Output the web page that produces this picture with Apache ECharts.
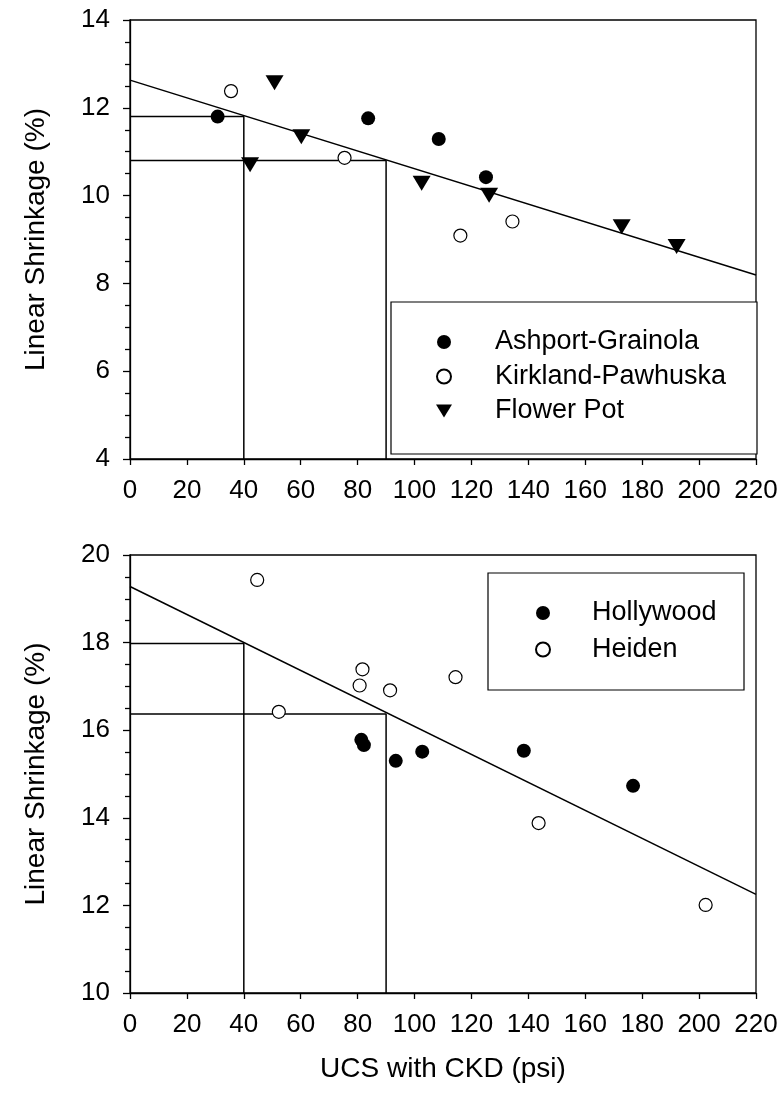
<!DOCTYPE html>
<html>
<head>
<meta charset="utf-8">
<script src="https://cdn.jsdelivr.net/npm/echarts@6/dist/echarts.min.js"></script>
<style>
  html, body { margin: 0; padding: 0; background: #fff; }
  #chart { width: 783px; height: 1117px; }
</style>
</head>
<body>
<div id="chart"></div>
<script>
// axis ranges [min, max, step]
const xRange = [0, 220, 20];
const topYRange = [4, 14, 2];
const bottomYRange = [10, 20, 2];

// top panel
const ashport = [[30.8, 11.80], [83.7, 11.76], [108.5, 11.29], [125.1, 10.42]];
const kirkland = [[35.5, 12.38], [75.4, 10.86], [116.1, 9.09], [134.4, 9.41]];
const flowerPot = [[50.8, 12.57], [60.2, 11.34], [42.2, 10.70], [102.5, 10.28], [126.2, 10.01], [172.8, 9.29], [192.1, 8.84]];
const topFit = [[0, 12.63], [220, 8.19]];
const topGuideA = [[0, 11.8], [40, 11.8], [40, 4]];
const topGuideB = [[0, 10.8], [90, 10.8], [90, 4]];

// bottom panel
const hollywood = [[81.3, 15.78], [82.2, 15.66], [93.4, 15.30], [102.7, 15.51], [138.4, 15.53], [176.8, 14.73]];
const heiden = [[44.7, 19.43], [52.3, 16.42], [80.7, 17.02], [81.7, 17.39], [91.4, 16.91], [114.4, 17.21], [143.6, 13.88], [202.3, 12.01]];
const bottomFit = [[0, 19.28], [220, 12.25]];
const bottomGuideA = [[0, 17.98], [40, 17.98], [40, 10]];
const bottomGuideB = [[0, 16.37], [90, 16.37], [90, 10]];

const FONT = "'Liberation Sans', Arial, sans-serif";
const DOWN_TRIANGLE = 'path://M0,0 L2,0 L1,1.65 Z';
const chart = echarts.init(document.getElementById('chart'));

const xAxisOf = (gridIndex, withName) => ({
  type: 'value', gridIndex,
  min: xRange[0], max: xRange[1], interval: xRange[2],
  axisLine: { show: true, onZero: false, lineStyle: { color: '#000', width: 1.3 } },
  axisTick: { show: true, inside: false, length: 6, lineStyle: { color: '#000', width: 1.3 } },
  axisLabel: { color: '#000', fontSize: 26, fontFamily: FONT, margin: 19 },
  splitLine: { show: false },
  name: withName ? 'UCS with CKD (psi)' : '',
  nameLocation: 'middle', nameGap: 62,
  nameTextStyle: { color: '#000', fontSize: 28, fontFamily: FONT }
});

const yAxisOf = (gridIndex, range) => ({
  type: 'value', gridIndex,
  min: range[0], max: range[1], interval: range[2],
  axisLine: { show: true, onZero: false, lineStyle: { color: '#000', width: 1.3 } },
  axisTick: { show: true, inside: false, length: 7, lineStyle: { color: '#000', width: 1.3 } },
  minorTick: { show: true, splitNumber: 4, length: 5, lineStyle: { color: '#000', width: 1.3 } },
  axisLabel: { color: '#000', fontSize: 26, fontFamily: FONT, margin: 20 },
  splitLine: { show: false },
  name: 'Linear Shrinkage (%)',
  nameLocation: 'middle', nameGap: 80, nameRotate: 90,
  nameTextStyle: { color: '#000', fontSize: 28, fontFamily: FONT }
});

const lineOf = (data, xi, yi) => ({
  type: 'line', data, xAxisIndex: xi, yAxisIndex: yi,
  symbol: 'none', silent: true, z: 1,
  lineStyle: { color: '#000', width: 1.5 }
});

const filled = { color: '#000', opacity: 1 };
const hollow = { color: '#fff', borderColor: '#000', borderWidth: 1.2, opacity: 1 };

const legendText = (padLeft) => ({
  color: '#000', fontSize: 27, fontFamily: FONT, lineHeight: 30, padding: [0, 0, 0, padLeft]
});

chart.setOption({
  animation: false,
  backgroundColor: '#fff',
  grid: [
    { left: 130, top: 20, width: 626, height: 439, show: true, borderColor: '#000', borderWidth: 1.3, backgroundColor: 'transparent' },
    { left: 130, top: 555, width: 626, height: 438, show: true, borderColor: '#000', borderWidth: 1.3, backgroundColor: 'transparent' }
  ],
  xAxis: [xAxisOf(0, false), xAxisOf(1, true)],
  yAxis: [yAxisOf(0, topYRange), yAxisOf(1, bottomYRange)],
  graphic: [
    { type: 'rect', shape: { x: 391, y: 302, width: 366, height: 152 }, style: { fill: '#fff', stroke: '#000', lineWidth: 1.2 }, z: 5 },
    { type: 'rect', shape: { x: 488, y: 573, width: 256, height: 117 }, style: { fill: '#fff', stroke: '#000', lineWidth: 1.2 }, z: 5 }
  ],
  legend: [
    {
      data: ['Ashport-Grainola', 'Kirkland-Pawhuska', { name: 'Flower Pot', icon: DOWN_TRIANGLE }],
      orient: 'vertical', left: 436, top: 327, padding: 0,
      itemWidth: 16, itemHeight: 14, itemGap: 4.5, z: 10,
      textStyle: legendText(38)
    },
    {
      data: ['Hollywood', 'Heiden'],
      orient: 'vertical', left: 535, top: 598, padding: 0,
      itemWidth: 16, itemHeight: 14, itemGap: 6.5, z: 10,
      textStyle: legendText(36)
    }
  ],
  series: [
    lineOf(topFit, 0, 0),
    lineOf(topGuideA, 0, 0),
    lineOf(topGuideB, 0, 0),
    { name: 'Ashport-Grainola', type: 'scatter', data: ashport, xAxisIndex: 0, yAxisIndex: 0,
      symbol: 'circle', symbolSize: 14, itemStyle: filled, z: 3 },
    { name: 'Kirkland-Pawhuska', type: 'scatter', data: kirkland, xAxisIndex: 0, yAxisIndex: 0,
      symbol: 'circle', symbolSize: 13, itemStyle: hollow, z: 3 },
    { name: 'Flower Pot', type: 'scatter', data: flowerPot, xAxisIndex: 0, yAxisIndex: 0,
      symbol: DOWN_TRIANGLE, symbolSize: [18, 15], itemStyle: filled, z: 3 },

    lineOf(bottomFit, 1, 1),
    lineOf(bottomGuideA, 1, 1),
    lineOf(bottomGuideB, 1, 1),
    { name: 'Hollywood', type: 'scatter', data: hollywood, xAxisIndex: 1, yAxisIndex: 1,
      symbol: 'circle', symbolSize: 14, itemStyle: filled, z: 3 },
    { name: 'Heiden', type: 'scatter', data: heiden, xAxisIndex: 1, yAxisIndex: 1,
      symbol: 'circle', symbolSize: 13, itemStyle: hollow, z: 3 }
  ]
});
</script>
</body>
</html>
